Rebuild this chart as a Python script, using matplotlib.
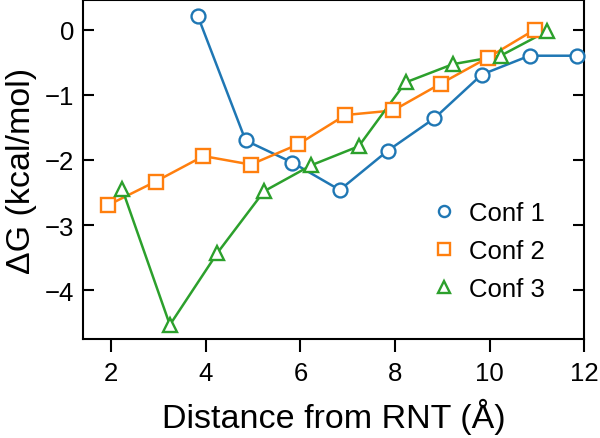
import numpy as np
import matplotlib
matplotlib.use("Agg")
import matplotlib.pyplot as plt

plt.rcParams['font.family'] = ['Liberation Sans', 'DejaVu Sans']

# data
conf1_x = [3.83, 4.84, 5.83, 6.83, 7.84, 8.83, 9.83, 10.84, 11.84]
conf1_y = [0.21, -1.70, -2.04, -2.46, -1.86, -1.36, -0.69, -0.40, -0.40]

conf2_x = [1.94, 2.94, 3.95, 4.95, 5.95, 6.95, 7.96, 8.96, 9.96, 10.95]
conf2_y = [-2.69, -2.33, -1.94, -2.07, -1.76, -1.31, -1.24, -0.83, -0.43, 0.0]

conf3_x = [2.23, 3.24, 4.24, 5.23, 6.23, 7.23, 8.22, 9.22, 10.23, 11.22]
conf3_y = [-2.44, -4.53, -3.43, -2.48, -2.08, -1.79, -0.81, -0.53, -0.40, -0.02]

labels = ["Conf 1", "Conf 2", "Conf 3"]
colors = ["#1f77b4", "#ff7f0e", "#2ca02c"]
markers = ["o", "s", "^"]

fig = plt.figure(figsize=(6, 4.39), dpi=100)
ax = fig.add_axes([0.138, 0.225, 0.836, 0.772])

handles = []
for xs, ys, lab, c, m in zip([conf1_x, conf2_x, conf3_x],
                             [conf1_y, conf2_y, conf3_y],
                             labels, colors, markers):
    ax.plot(xs, ys, color=c, lw=1.8, zorder=2)
    h, = ax.plot(xs, ys, ls="none", marker=m, ms=10, mfc="white", mec=c,
                 mew=1.7, label=lab, zorder=3, clip_on=False)
    handles.append(h)

ax.set_xlim(1.4, 12)
ax.set_ylim(-4.75, 0.45)
ax.set_xticks([2, 4, 6, 8, 10, 12])
ax.set_yticks([0, -1, -2, -3, -4])

for s in ax.spines.values():
    s.set_linewidth(1.5)

ax.tick_params(axis="x", labelsize=18.5, width=1.5, length=9,
               direction="out", pad=7)
ax.tick_params(axis="y", labelsize=18.5, width=1.5, length=8,
               direction="in", pad=6, right=True)

ax.set_xlabel("Distance from RNT (Å)", fontsize=24.5, labelpad=9)
ax.set_ylabel("ΔG (kcal/mol)", fontsize=24.5, labelpad=6)

ax.legend(handles=handles, loc="center left", bbox_to_anchor=(0.676, 0.26),
          frameon=False, fontsize=18.5, handlelength=0.9, handletextpad=0.55,
          labelspacing=0.55, markerscale=0.8, borderaxespad=0)

fig.savefig("out.png", dpi=100)
